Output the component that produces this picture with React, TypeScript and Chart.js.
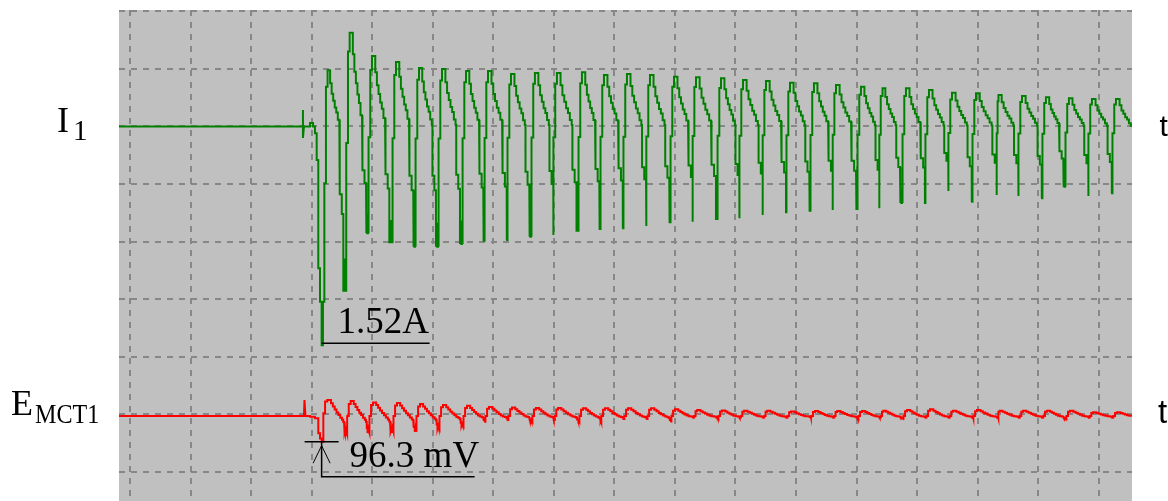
import React, { useEffect, useRef } from "react";
import { Chart, registerables } from "chart.js";

Chart.register(...registerables);

// Time in ms (60 ms per division), I1 in A (0.4 A per division), E_MCT1 in mV
const timeMin = -10.9;
const timeMax = 993.0;
const timeTicks = [0, 60, 120, 180, 240, 300, 360, 420, 480, 540, 600, 660, 720, 780, 840, 900, 960];
const i1Ticks = [0.8, 0.4, 0, -0.4, -0.8, -1.2, -1.6, -2.0, -2.4];
const i1Range = [-2.601, 0.809];
const eRange = [-318.75, 1522.5];

// Onset (switching transient) of each trace: [time, value]
const i1Onset: [number, number][] = [
  [-10.9, 0], [171.4, 0], [171.4, 0.115], [171.4, -0.08], [172.4, 0], [178.4, 0], [178.4, 0.024],
  [181.4, 0.024], [181.4, 0], [183.3, 0], [183.3, -0.047], [185.0, -0.047], [185.0, -0.233],
  [186.6, -0.233], [186.6, -0.985], [188.3, -0.985], [188.3, -1.217], [189.9, -1.217], [189.9, -1.52],
  [191.2, -1.52], [191.2, -1.217], [192.6, -1.217], [192.6, -0.394], [194.2, -0.394], [194.2, 0.276],
  [195.4, 0.276], [195.4, 0.39],
];
const eOnset: [number, number][] = [
  [-10.9, 0], [172.4, 0], [172.9, 60], [173.9, 0], [178.4, 0], [178.4, -2.5], [183.3, -2.5], [183.3, -8.7],
  [186.6, -8.7], [186.6, -65], [188.3, -65], [188.3, -84], [189.9, -84], [189.9, -96.3], [191.6, -96.3],
  [191.6, 10], [193.3, 10], [193.3, 54], [195.5, 54], [195.5, 60],
];

// Per-cycle readings
const peakTime = [196.2, 218.7, 240.8, 264.6, 287.4, 310.2, 334.0, 355.8, 378.6, 402.3, 424.1, 448.9, 470.7,
  493.5, 516.3, 540.1, 561.9, 586.7, 608.5, 631.3, 655.1, 678.8, 700.6, 725.4, 746.2, 770.0, 792.8, 815.6,
  839.4, 861.2, 885.0, 908.7, 931.5, 954.3, 978.1];
const i1Peak = [0.39, 0.651, 0.49, 0.448, 0.406, 0.399, 0.385, 0.385, 0.365, 0.372, 0.372, 0.376, 0.358, 0.365,
  0.358, 0.346, 0.342, 0.335, 0.323, 0.316, 0.304, 0.3, 0.288, 0.276, 0.265, 0.265, 0.253, 0.235, 0.231, 0.219,
  0.212, 0.203, 0.196, 0.191, 0.191];
const troughTime = [211.4, 233.9, 257.0, 280.7, 303.2, 327.0, 350.1, 373.3, 395.7, 419.5, 442.5, 465.1, 488.3,
  511.4, 534.4, 557.6, 580.7, 603.8, 627.0, 650.1, 673.2, 696.4, 719.5, 742.6, 763.1, 787.8, 810.9, 834.1,
  858.9, 880.3, 903.5, 924.9, 949.7, 972.9];
const i1Trough = [-1.147, -0.742, -0.811, -0.835, -0.835, -0.816, -0.8, -0.788, -0.765, -0.753, -0.731, -0.719,
  -0.707, -0.691, -0.672, -0.661, -0.649, -0.637, -0.615, -0.603, -0.592, -0.58, -0.58, -0.568, -0.531, -0.538,
  -0.448, -0.522, -0.476, -0.483, -0.499, -0.418, -0.483, -0.464];
const ePeak = [60, 56, 51, 49, 45, 41, 38, 34, 32, 30, 30, 29, 29, 29, 29, 25, 22.5, 21, 20, 20, 17, 19, 19, 19,
  20, 22.5, 25, 20, 22.5, 20, 20, 20, 20, 14, 14];
const eTrough = [-64, -64, -60, -59, -46, -36, -22, -19, -19, -19, -19, -21, -15, -15, -21, -9, -9, -9, -9, -9,
  -5, -9, -9, -9, -9, -9, -9, -9, -9, -9, -9, -9, -9, -9];
const eLag = 1.5;
const traceEnd = 993.0;

// Cycle shapes read from a typical cycle: [fraction of peak->trough time, level]
// level >= 0 : fraction of the peak, level < 0 : fraction of the trough depth
const i1Decay: [number, number][] = [
  [0, 1], [0.14, 1], [0.14, 0.77], [0.24, 0.77], [0.24, 0.585], [0.34, 0.585], [0.34, 0.46], [0.44, 0.46],
  [0.44, 0.34], [0.54, 0.34], [0.54, 0.25], [0.64, 0.25], [0.64, 0.12], [0.74, 0.12], [0.74, 0.03],
  [0.78, 0.03], [0.78, -0.41], [0.9, -0.41], [0.9, -0.53], [1, -0.53], [1, -1],
];
const eDecay: [number, number][] = [
  [0, 1], [0.1, 1], [0.1, 0.8], [0.22, 0.8], [0.22, 0.6], [0.34, 0.6], [0.34, 0.4], [0.46, 0.4], [0.46, 0.22],
  [0.58, 0.22], [0.58, 0.06], [0.7, 0.06], [0.7, -0.1], [0.82, -0.1], [0.82, -0.22], [0.9, -0.22],
  [0.9, -0.35], [0.95, -0.35], [0.95, -0.7], [1, -0.7], [1, -1],
];
const troughRipple: [number, number][] = [[0.3, 0.8], [0.5, 1], [0.75, 0.85]];
const i1Rise = { len: 4.4, base: -0.1, steps: [[0.39, 0.8], [0.77, 1]] as [number, number][] };
const eRise = { len: 5, base: 0, steps: [[0.32, 0.8], [0.7, 1]] as [number, number][] };

const i1MinTime = 189.9;
const i1Min = -1.52;
const eMinTime = 189.9;
const eMin = -96.3;
const i1Note = "1.52A";
const eNote = "96.3 mV";

type Pt = { x: number; y: number };

function level(l: number, P: number, T: number) {
  return l >= 0 ? l * P : -l * T;
}

function buildTrace(
  onset: [number, number][], pT: number[], pV: number[], tT: number[], tV: number[],
  decay: [number, number][], rise: { len: number; base: number; steps: [number, number][] }, lag: number
): Pt[] {
  const pts: Pt[] = onset.map(([x, y]) => ({ x, y }));
  for (let k = 0; k < pT.length; k++) {
    const tp = pT[k] + lag;
    const P = pV[k];
    const hasT = k < tT.length;
    const tt = hasT ? tT[k] + lag : tp + 18.5;
    const T = hasT ? tV[k] : tV[tV.length - 1];
    for (const [f, l] of decay) {
      const x = tp + f * (tt - tp);
      if (!hasT && (x >= traceEnd || l < 0)) break;
      pts.push({ x, y: level(l, P, T) });
    }
    if (!hasT) {
      pts.push({ x: traceEnd, y: 0 });
      break;
    }
    const tp2 = pT[k + 1] + lag;
    const P2 = pV[k + 1];
    const rs = Math.max(tt, tp2 - rise.len);
    for (const [f, m] of troughRipple) pts.push({ x: tt + f * (rs - tt), y: m * T });
    pts.push({ x: rs, y: T });
    let prev = level(rise.base, P2, T);
    pts.push({ x: rs, y: prev });
    for (const [f, m] of rise.steps) {
      const x = rs + f * (tp2 - rs);
      pts.push({ x, y: prev });
      prev = m * P2;
      pts.push({ x, y: prev });
    }
  }
  return pts;
}

const serif = '"Liberation Serif", "Times New Roman", serif';
const sans = '"Liberation Sans", Arial, sans-serif';

const overlay = {
  id: "overlay",
  beforeDraw(chart: any) {
    const { ctx, chartArea } = chart;
    ctx.save();
    ctx.fillStyle = "#c0c0c0";
    ctx.fillRect(chartArea.left, chartArea.top, chartArea.right - chartArea.left, chartArea.bottom - chartArea.top);
    ctx.restore();
  },
  afterDraw(chart: any) {
    const { ctx } = chart;
    const xs = chart.scales.x;
    const yI = chart.scales.yI;
    const yE = chart.scales.yE;
    ctx.save();
    ctx.fillStyle = "#000";
    ctx.strokeStyle = "#000";
    ctx.textAlign = "left";
    ctx.textBaseline = "alphabetic";

    // channel labels
    const i0 = yI.getPixelForValue(0);
    const e0 = yE.getPixelForValue(0);
    ctx.font = `36px ${serif}`;
    ctx.fillText("I", 57, i0 + 5.5);
    ctx.font = `29px ${serif}`;
    ctx.fillText("1", 73, i0 + 13.5);
    ctx.font = `36px ${serif}`;
    ctx.fillText("E", 11, e0 - 1);
    ctx.save();
    ctx.translate(35, e0 + 7.3);
    ctx.scale(0.86, 1);
    ctx.font = `28px ${serif}`;
    ctx.fillText("MCT1", 0, 0);
    ctx.restore();
    ctx.font = `30px ${sans}`;
    ctx.fillText("t", 1159.5, i0 + 10);
    ctx.font = `33px ${sans}`;
    ctx.fillText("t", 1158, e0 + 7);

    // 1.52A annotation
    const ax = xs.getPixelForValue(i1MinTime);
    const ay = yI.getPixelForValue(i1Min);
    ctx.lineWidth = 1.5;
    ctx.beginPath();
    ctx.moveTo(ax, ay - 2);
    ctx.lineTo(ax + 108, ay - 2);
    ctx.stroke();
    ctx.font = `37px ${serif}`;
    ctx.fillText(i1Note, ax + 16, ay - 12);

    // 96.3 mV annotation
    const bx = xs.getPixelForValue(eMinTime);
    const by = yE.getPixelForValue(eMin);
    ctx.lineWidth = 1.5;
    ctx.beginPath();
    ctx.moveTo(bx - 17, by);
    ctx.lineTo(bx + 17, by);
    ctx.moveTo(bx, by);
    ctx.lineTo(bx, by + 35);
    ctx.lineTo(bx + 153, by + 35);
    ctx.stroke();
    ctx.lineWidth = 1;
    ctx.beginPath();
    ctx.moveTo(bx - 8.5, by + 21.5);
    ctx.lineTo(bx, by + 4);
    ctx.lineTo(bx + 8.5, by + 21.5);
    ctx.stroke();
    ctx.font = `37px ${serif}`;
    ctx.fillText(eNote, bx + 28, by + 25);
    ctx.restore();
  },
};

export default function App() {
  const ref = useRef<HTMLCanvasElement | null>(null);
  useEffect(() => {
    if (!ref.current) return;
    const i1Data = buildTrace(i1Onset, peakTime, i1Peak, troughTime, i1Trough, i1Decay, i1Rise, 0);
    const eData = buildTrace(eOnset, peakTime, ePeak, troughTime, eTrough, eDecay, eRise, eLag);
    const chart = new Chart(ref.current, {
      type: "line",
      data: {
        datasets: [
          {
            label: "I1",
            data: i1Data,
            yAxisID: "yI",
            borderColor: "#008000",
            borderWidth: 2,
            pointRadius: 0,
            tension: 0,
            fill: false,
          },
          {
            label: "EMCT1",
            data: eData,
            yAxisID: "yE",
            borderColor: "#ff0000",
            borderWidth: 2,
            pointRadius: 0,
            tension: 0,
            fill: false,
          },
        ],
      },
      options: {
        animation: false,
        responsive: false,
        devicePixelRatio: 1,
        layout: { padding: { left: 119, top: 10, right: 36, bottom: 0 } },
        plugins: { legend: { display: false }, tooltip: { enabled: false } },
        events: [],
        scales: {
          x: {
            type: "linear",
            min: timeMin,
            max: timeMax,
            afterBuildTicks: (s: any) => {
              s.ticks = timeTicks.map((v) => ({ value: v }));
            },
            ticks: { display: false },
            grid: { color: "#878787", lineWidth: 2, drawTicks: false },
            border: { display: false, dash: [6, 6] },
          },
          yI: {
            type: "linear",
            position: "left",
            min: i1Range[0],
            max: i1Range[1],
            afterBuildTicks: (s: any) => {
              s.ticks = i1Ticks.map((v) => ({ value: v }));
            },
            ticks: { display: false },
            grid: { color: "#878787", lineWidth: 2, drawTicks: false },
            border: { display: false, dash: [6, 6] },
          },
          yE: {
            type: "linear",
            position: "right",
            display: false,
            min: eRange[0],
            max: eRange[1],
          },
        },
      },
      plugins: [overlay],
    });
    return () => chart.destroy();
  }, []);
  return (
    <div style={{ position: "fixed", left: 0, top: 0, width: 1168, height: 501, background: "#fff" }}>
      <canvas ref={ref} width={1168} height={501} style={{ display: "block" }} />
    </div>
  );
}
